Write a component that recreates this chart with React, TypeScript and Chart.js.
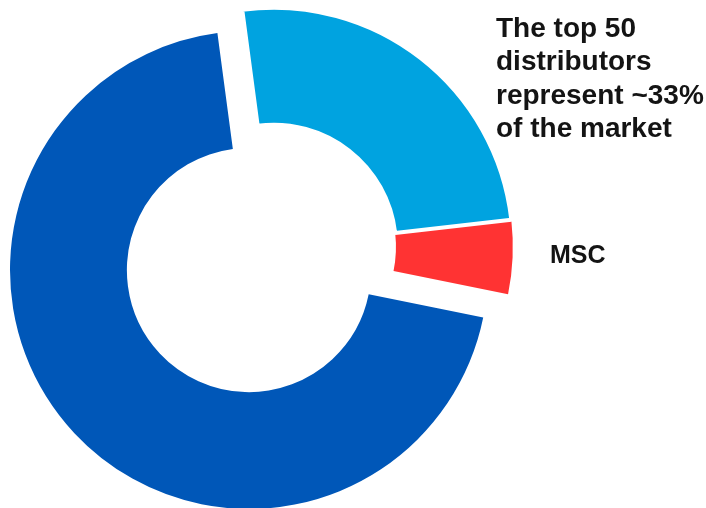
import React, { useEffect, useRef } from "react";
import { Chart, registerables } from "chart.js";

Chart.register(...registerables);

const categories = ["Top 50 distributors (others)", "MSC", "Rest of market"];
const shares = [25.3, 5.0, 69.7];
const colors = ["#00A3E0", "#FF3333", "#0057B8"];
const explodedGroup = [0, 1];
const drawOrder = [1, 0, 2];
const labelLines = ["The top 50", "distributors", "represent ~33%", "of the market"];
const mscLabel = "MSC";

const EXPLODE_DISTANCE = 34;

const explodePlugin = {
  id: "explodeGroup",
  beforeDatasetDraw(chart: any, args: any) {
    const arcs = args.meta.data;
    const ctx = chart.ctx;
    const first = arcs[explodedGroup[0]];
    const last = arcs[explodedGroup[explodedGroup.length - 1]];
    const mid = (first.startAngle + last.endAngle) / 2;
    const dx = Math.cos(mid) * EXPLODE_DISTANCE;
    const dy = Math.sin(mid) * EXPLODE_DISTANCE;
    drawOrder.forEach((i) => {
      const arc = arcs[i];
      ctx.save();
      if (explodedGroup.includes(i)) ctx.translate(dx, dy);
      arc.draw(ctx);
      ctx.restore();
    });
    return false;
  },
};

export default function App() {
  const canvasRef = useRef<HTMLCanvasElement | null>(null);

  useEffect(() => {
    if (!canvasRef.current) return;
    const chart = new Chart(canvasRef.current, {
      type: "doughnut",
      data: {
        labels: categories,
        datasets: [
          {
            data: shares,
            backgroundColor: colors,
            borderColor: "#ffffff",
            borderWidth: [4, 0, 0],
            hoverOffset: 0,
          },
        ],
      },
      options: {
        responsive: false,
        animation: false,
        radius: 239,
        cutout: "51.1%",
        rotation: -7.6,
        layout: { padding: { left: 0, right: 208, top: 32, bottom: 0 } },
        plugins: {
          legend: { display: false },
          tooltip: { enabled: false },
        },
        events: [],
      },
      plugins: [explodePlugin],
    });
    return () => chart.destroy();
  }, []);

  return (
    <div
      style={{
        position: "fixed",
        left: 0,
        top: 0,
        width: 706,
        height: 508,
        background: "#ffffff",
        overflow: "hidden",
      }}
    >
      <canvas ref={canvasRef} width={706} height={508} style={{ position: "absolute", left: 0, top: 0 }} />
      <div
        style={{
          position: "absolute",
          left: 496,
          top: 10.6,
          fontFamily: "'Liberation Sans', Arial, sans-serif",
          fontWeight: "bold",
          fontSize: 28,
          lineHeight: "33.5px",
          color: "#141414",
          whiteSpace: "nowrap",
        }}
      >
        {labelLines.map((l) => (
          <div key={l}>{l}</div>
        ))}
      </div>
      <div
        style={{
          position: "absolute",
          left: 550,
          top: 242,
          fontFamily: "'Liberation Sans', Arial, sans-serif",
          fontWeight: "bold",
          fontSize: 25,
          lineHeight: "25px",
          color: "#141414",
          whiteSpace: "nowrap",
        }}
      >
        {mscLabel}
      </div>
    </div>
  );
}
